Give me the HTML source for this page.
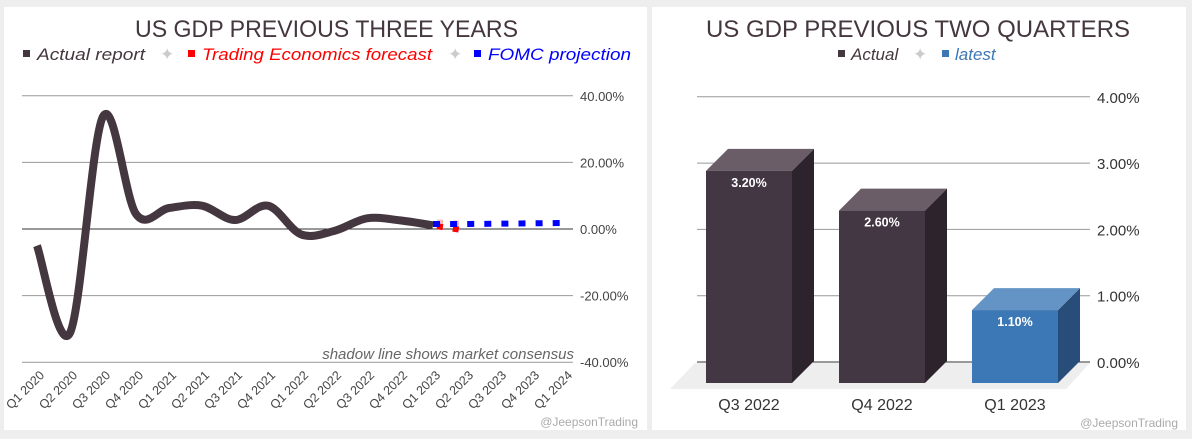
<!DOCTYPE html>
<html><head><meta charset="utf-8">
<style>
html,body{margin:0;padding:0;background:#eeeeee;}
body{width:1192px;height:439px;position:relative;overflow:hidden;font-family:"Liberation Sans",Arial,sans-serif;}
.panel{position:absolute;background:#fff;top:7px;height:423px;}
svg{position:absolute;left:0;top:0;}
text{font-family:"Liberation Sans",Arial,sans-serif;}
</style></head>
<body>
<div class="panel" style="left:4px;width:643px;"></div>
<div class="panel" style="left:652px;width:534px;"></div>
<svg id="chart" width="1192" height="439">
  <text x="135" y="37" font-size="24" fill="#45373f" textLength="383" lengthAdjust="spacingAndGlyphs">US GDP PREVIOUS THREE YEARS</text>
  <g font-size="17" font-style="italic">
    <rect x="23" y="50" width="7" height="7" fill="#45373f"/>
    <text x="37" y="60" fill="#45373f" textLength="108" lengthAdjust="spacingAndGlyphs">Actual report</text>
    <text x="160" y="60" fill="#ccc" font-style="normal">✦</text>
    <rect x="188" y="50" width="7" height="7" fill="#f00"/>
    <text x="202" y="60" fill="#f00" textLength="230" lengthAdjust="spacingAndGlyphs">Trading Economics forecast</text>
    <text x="448" y="60" fill="#ccc" font-style="normal">✦</text>
    <rect x="474" y="50" width="7" height="7" fill="#00f"/>
    <text x="488" y="60" fill="#00f" textLength="143" lengthAdjust="spacingAndGlyphs">FOMC projection</text>
  </g>
  <g id="leftGrid"></g>
  <g id="leftSeries"></g>
  <g id="leftX"></g>
  <text x="574" y="359" font-size="15" font-style="italic" fill="#666" text-anchor="end">shadow line shows market consensus</text>
  <text x="638" y="426" font-size="12" fill="#aaa" text-anchor="end">@JeepsonTrading</text>

  <text x="918" y="37" font-size="24" fill="#45373f" text-anchor="middle">US GDP PREVIOUS TWO QUARTERS</text>
  <g font-size="17" font-style="italic">
    <rect x="838" y="50" width="7" height="7" fill="#45373f"/>
    <text x="851" y="60" fill="#45373f">Actual</text>
    <text x="913" y="60" fill="#ccc" font-style="normal">✦</text>
    <rect x="942" y="50" width="7" height="7" fill="#3d78b6"/>
    <text x="955" y="60" fill="#3d78b6">latest</text>
  </g>
  <polygon points="670,389 1066,389 1090,363 695,363" fill="#eeeeee"/>
  <g id="rightGrid"></g>
  <g id="rightBars"></g>
  <text x="1178" y="427" font-size="12" fill="#aaa" text-anchor="end">@JeepsonTrading</text>
</svg>
<script>
// ----- left chart data -----
const quarters = ["Q1 2020","Q2 2020","Q3 2020","Q4 2020","Q1 2021","Q2 2021","Q3 2021","Q4 2021","Q1 2022","Q2 2022","Q3 2022","Q4 2022","Q1 2023","Q2 2023","Q3 2023","Q4 2023","Q1 2024"];
const actualValues = [-5.0,-31.2,33.8,4.5,6.3,7.0,2.7,7.0,-1.6,-0.6,3.2,2.6,1.1];
const forecastIdx = [12,13];
const forecastValues = [1.0,-0.5];
const consensusValues = [2.0,1.5];
const fomcIdx = [12,13,14,15,16];
const fomcValues = [1.5,1.5,1.6,1.7,1.8];
const leftTicks = [40,20,0,-20,-40];
const leftTickLabels = ["40.00%","20.00%","0.00%","-20.00%","-40.00%"];
// ----- right chart data -----
const barCats = ["Q3 2022","Q4 2022","Q1 2023"];
const barValues = [3.2,2.6,1.1];
const barLabels = ["3.20%","2.60%","1.10%"];
const rightTicks = [4,3,2,1,0];
const rightTickLabels = ["4.00%","3.00%","2.00%","1.00%","0.00%"];

const NS="http://www.w3.org/2000/svg";
function mk(tag,attrs,parent){const e=document.createElementNS(NS,tag);for(const k in attrs)e.setAttribute(k,attrs[k]);parent.appendChild(e);return e;}
const lx=i=>37+i*33;
const ly=v=>229-v*3.33;

const lg=document.getElementById('leftGrid');
leftTicks.forEach((t,i)=>{
  const l=mk('line',{x1:22,x2:573,y1:ly(t),y2:ly(t),stroke:t===0?'#333':'#999','stroke-width':1},lg);
  
  
  const tx=mk('text',{x:580,y:ly(t)+5,'font-size':13,fill:'#444'},lg);
  tx.textContent=leftTickLabels[i];
  
  
});
const lxg=document.getElementById('leftX');
quarters.forEach((q,i)=>{
  const tx=mk('text',{x:0,y:0,'font-size':12.5,fill:'#444','text-anchor':'end',transform:`translate(${lx(i)+8},${376}) rotate(-45)`},lxg);
  tx.textContent=q;
  
  
});
function smooth(pts){
  let d=`M${pts[0][0]},${pts[0][1]}`;
  for(let i=0;i<pts.length-1;i++){
    const p0=pts[i-1]||pts[i],p1=pts[i],p2=pts[i+1],p3=pts[i+2]||p2;
    const c1=[p1[0]+(p2[0]-p0[0])/6,p1[1]+(p2[1]-p0[1])/6];
    const c2=[p2[0]-(p3[0]-p1[0])/6,p2[1]-(p3[1]-p1[1])/6];
    d+=` C${c1[0]},${c1[1]} ${c2[0]},${c2[1]} ${p2[0]},${p2[1]}`;
  }
  return d;
}
const ls=document.getElementById('leftSeries');
const cons=mk('path',{d:`M${lx(forecastIdx[0])},${ly(consensusValues[0])} L${lx(forecastIdx[1])},${ly(consensusValues[1])}`,stroke:'#f7b7b7','stroke-width':6,fill:'none','stroke-dasharray':'6 10','stroke-dashoffset':-4},ls);


const act=mk('path',{d:smooth(actualValues.map((v,i)=>[lx(i),ly(v)])),stroke:'#45373f','stroke-width':8,fill:'none','stroke-linecap':'butt'},ls);


const fc=mk('path',{d:`M${lx(forecastIdx[0])},${ly(forecastValues[0])} L${lx(forecastIdx[1])},${ly(forecastValues[1])}`,stroke:'#f00','stroke-width':6,fill:'none','stroke-dasharray':'6 10','stroke-dashoffset':-4},ls);


const fomc=mk('path',{d:'M'+fomcIdx.map((k,i)=>`${lx(k)},${ly(fomcValues[i])}`).join(' L'),stroke:'#00f','stroke-width':6,fill:'none','stroke-dasharray':'7 10.1'},ls);



// right chart
const ry=v=>362-v*66.3;
const rg=document.getElementById('rightGrid');
rightTicks.forEach((t,i)=>{
  const l=mk('line',{x1:697,x2:1090,y1:ry(t),y2:ry(t),stroke:t===0?'#333':'#999','stroke-width':1},rg);
  
  
  const tx=mk('text',{x:1097,y:ry(t)+6,'font-size':15,fill:'#333'},rg);
  tx.textContent=rightTickLabels[i];
  
  
});
const rb=document.getElementById('rightBars');
const barX=i=>706+i*133;
const W=86,DX=22,DY=22,BASE=383;
barValues.forEach((v,i)=>{
  const latest=i===barValues.length-1;
  const front=latest?'#3d78b6':'#443744',top=latest?'#6394c5':'#6a5d68',side=latest?'#284d78':'#2d232c';
  const x=barX(i),yt=BASE-v*66.3;
  const g=mk('g',{},rb);
  
  
  mk('polygon',{points:`${x+W},${yt} ${x+W+DX},${yt-DY} ${x+W+DX},${BASE-DY} ${x+W},${BASE}`,fill:side},g);
  mk('polygon',{points:`${x},${yt} ${x+DX},${yt-DY} ${x+W+DX},${yt-DY} ${x+W},${yt}`,fill:top},g);
  mk('rect',{x:x,y:yt,width:W,height:BASE-yt,fill:front},g);
  const lbl=mk('text',{x:x+W/2,y:yt+16,'font-size':12.5,'font-weight':'bold',fill:'#fff','text-anchor':'middle'},g);
  lbl.textContent=barLabels[i];
  const cat=mk('text',{x:x+W/2,y:410,'font-size':16,fill:'#333','text-anchor':'middle'},rb);
  cat.textContent=barCats[i];
  
  
});
</script>
</body></html>
